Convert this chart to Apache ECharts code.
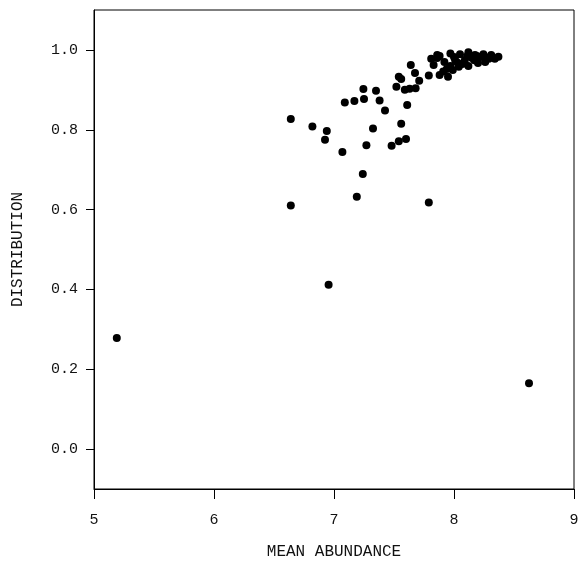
<!DOCTYPE html>
<html>
<head>
<meta charset="utf-8">
<script src="https://cdn.jsdelivr.net/npm/echarts@6/dist/echarts.min.js"></script>
<style>
  html, body { margin: 0; padding: 0; background: #fff; }
  #chart { width: 579px; height: 561px; }
</style>
</head>
<body>
<div id="chart"></div>
<script>
  // values
  var abundance = [
    5.19, 6.64, 6.955, 8.625, 7.19, 7.79, 7.24,
    6.64, 6.82, 6.94, 6.925, 7.07, 7.09, 7.17, 7.25, 7.245, 7.35, 7.38, 7.425,
    7.325, 7.27, 7.48, 7.54, 7.60, 7.56, 7.61, 7.52, 7.54, 7.56, 7.59, 7.63,
    7.68, 7.71, 7.675, 7.64, 7.79, 7.88, 7.95, 7.83, 7.81, 7.86, 7.91,
    7.88, 7.97, 8.05, 8.12, 8.175, 8.245, 8.31, 8.37,
    8.04, 8.12, 8.20, 8.26, 7.92, 8.01, 8.09, 8.17, 8.29, 8.34,
    7.99, 7.86, 8.00, 8.15, 8.22, 8.07, 7.97, 8.03, 8.11, 8.19, 8.27, 7.94
  ];
  var distribution = [
    0.278, 0.61, 0.412, 0.165, 0.632, 0.618, 0.689,
    0.827, 0.808, 0.797, 0.775, 0.744, 0.868, 0.872, 0.877, 0.902, 0.898, 0.873, 0.848,
    0.803, 0.761, 0.76, 0.771, 0.777, 0.815, 0.862, 0.908, 0.933, 0.927, 0.90, 0.903,
    0.904, 0.923, 0.942, 0.962, 0.936, 0.937, 0.933, 0.962, 0.978, 0.98, 0.946,
    0.985, 0.991, 0.989, 0.994, 0.987, 0.989, 0.987, 0.983,
    0.958, 0.96, 0.967, 0.97, 0.97, 0.974, 0.974, 0.974, 0.978, 0.978,
    0.95, 0.987, 0.982, 0.98, 0.982, 0.965, 0.96, 0.968, 0.984, 0.985, 0.981, 0.952
  ];
  var xTicks = [5, 6, 7, 8, 9];
  var yTicks = [0.0, 0.2, 0.4, 0.6, 0.8, 1.0];

  var points = [];
  for (var i = 0; i < abundance.length; i++) {
    points.push([abundance[i], distribution[i]]);
  }

  var monoFont = '"Liberation Mono", "DejaVu Sans Mono", monospace';
  var chart = echarts.init(document.getElementById('chart'));
  var option = {
    animation: false,
    backgroundColor: '#fff',
    grid: {
      left: 94,
      right: 5,
      top: 10,
      bottom: 72,
      containLabel: false,
      outerBoundsMode: 'none',
      show: true,
      borderColor: '#000',
      borderWidth: 1
    },
    xAxis: {
      type: 'value',
      min: xTicks[0],
      max: xTicks[xTicks.length - 1],
      name: 'MEAN ABUNDANCE',
      nameLocation: 'middle',
      nameGap: 55,
      nameTextStyle: { color: '#111', fontFamily: monoFont, fontSize: 16 },
      axisLine: { show: true, onZero: false, lineStyle: { color: '#000', width: 1 } },
      axisTick: { show: true, inside: false, length: 10, customValues: xTicks, lineStyle: { color: '#000' } },
      axisLabel: { color: '#111', fontFamily: monoFont, fontSize: 15, margin: 24, customValues: xTicks },
      splitLine: { show: false }
    },
    yAxis: {
      type: 'value',
      min: -0.1,
      max: 1.1,
      name: 'DISTRIBUTION',
      nameLocation: 'middle',
      nameGap: 68,
      nameTextStyle: { color: '#111', fontFamily: monoFont, fontSize: 16 },
      axisLine: { show: true, onZero: false, lineStyle: { color: '#000', width: 1 } },
      axisTick: { show: true, inside: false, length: 8, customValues: yTicks, lineStyle: { color: '#000' } },
      axisLabel: {
        color: '#111',
        fontFamily: monoFont,
        fontSize: 15,
        margin: 16,
        customValues: yTicks,
        formatter: function (v) { return v.toFixed(1); }
      },
      splitLine: { show: false }
    },
    series: [{
      type: 'scatter',
      data: points,
      symbol: 'circle',
      symbolSize: 8,
      itemStyle: { color: '#000', opacity: 1 }
    }]
  };
  chart.setOption(option);
</script>
</body>
</html>
